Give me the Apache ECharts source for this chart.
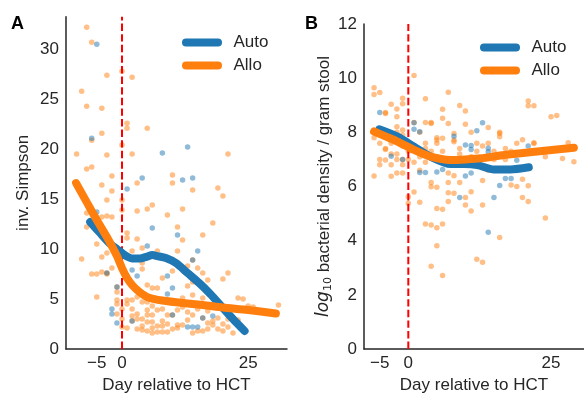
<!DOCTYPE html>
<html>
<head>
<meta charset="utf-8">
<script src="https://cdn.jsdelivr.net/npm/echarts@6/dist/echarts.min.js"></script>
<style>html,body{margin:0;padding:0;background:#fff}#c{width:584px;height:394px}</style>
</head>
<body>
<div id="c"></div>
<script>
// ---- Panel A: inverse Simpson ----
const xTicks = [-5, 0, 25];
const simpsonAlloPts = [
 [-7,32.2],[-6,30.7],[-3,27.4],[0,27.8],[2,27.2],[-8,25.8],[-7,24.3],[-4,24.1],[1,22.6],[1,22.1],[5,22.1],[-4,21.6],[-6,20.9],[0,20.4],
 [-9,19.5],[-3,19.4],[2,19.5],[21,19.5],[-6,18.2],[-7,18.0],[-2,17.3],[10,17.4],[3,16.6],[10,16.6],[-4,16.4],[-2,15.8],[14,15.9],[19,16.1],
 [20,15.3],[-3,14.9],[0,14.9],[6,14.4],[5,14.0],[3,13.8],[12,14.0],[0,13.9],[-7,13.6],[-4,13.2],[-3,13.3],[-2,13.2],[9,13.4],[18,12.6],
 [-7,12.2],[11,12.2],[-5,10.5],[-8,9.0],[-4,9.2],[-3,9.6],[-2,8.1],[1,11.6],[1,11.1],[3,11.0],[4,10.1],[7,9.8],[2,9.8],[4,8.6],[4,8.0],
 [-5,7.5],[-4,7.7],[-3,7.5],[-1,5.7],[-1,4.9],[-1,4.5],[-1,3.5],[-5,5.2],[1,4.9],[1,4.5],[2,4.9],[1,2.1],[5,6.4],[6,6.1],[7,6.1],[3,5.2],
 [4,4.7],[5,4.7],[8,7.1],[10,7.8],[16,11.4],[12,10.9],[11,9.8],[13,8.3],[15,8.1],[16,7.6],[17,6.9],[20,7.0],[21,7.6],[13,6.3],[14,6.7],
 [14,5.4],[12,5.1],[16,5.1],[24,5.0],[26,4.2],[31,4.4],[23,5.1],[25,4.3],[13,3.7],[14,3.4],[19,3.1],[17,3.8],[21,2.2],[20,1.8],[22,1.6],
 [11,2.4],[12,2.4],[15,1.8],[16,1.8],[17,2.0],[18,2.4],[18,2.8],[11,2.1],[14,1.6],[14,8.9],[16,3.1],
 [3,3.5],[3,3.0],[4,3.0],[4,2.3],[5,3.9],[5,3.4],[5,2.7],[5,1.8],[6,3.4],[6,2.7],[7,3.9],[7,2.3],[8,2.3],[7,1.7],[8,1.7],[9,1.7],
 [9,3.4],[10,3.4],[0,4.0],[0,3.0],[0,2.2],[2,4.0],[2,3.3],[3,2.0],[6,2.1],[8,2.8],[9,2.5],[10,2.0],[10,4.6],[12,4.2],[15,4.0],[13,2.9],
 [19,2.0],[20,2.5],[21,3.0],[23,2.9],[2,2.8],[-3,7.6],[-6,7.5],[-1,6.2],[6,4.3],[8,4.0],[4,1.9],[6,1.6],[11,3.9],[17,2.6]
];
const simpsonAutoPts = [
 [-5,30.5],[-6,21.1],[13,20.2],[8,19.6],[4,17.1],[12,16.9],[14,17.1],[1,16.0],[-5,13.7],[6,12.1],[5,10.3],[11,11.4],[15,9.8],
 [2,7.9],[3,7.3],[-3,7.6],[-1,6.2],[-2,4.0],[-2,3.5],[-1,2.6],[2,2.8],[9,7.3],[9,5.5],[10,6.1],[10,3.4],[14,8.9],[16,3.1],
 [18,3.3],[13,2.2],[14,2.2],[15,2.2]
];
const simpsonAlloLine = [[-9.1,16.6],[-7,14.7],[-5,12.9],[-3,11.2],[-1,9.3],[0,8.1],[1,7.1],[2,6.4],[3,5.9],[4,5.5],[5,5.2],[6,5.05],[8,4.85],[12,4.6],[16,4.4],[20,4.15],[25,3.9],[30.5,3.55]];
const simpsonAutoLine = [[-6.3,12.7],[-4.5,11.7],[-2.5,10.6],[-1,10.0],[0,9.6],[1,9.25],[2,9.05],[3.5,9.05],[5,9.25],[6,9.4],[7,9.3],[8.7,9.1],[10.7,8.6],[13,7.6],[15.3,6.6],[17.5,5.5],[20,4.1],[22,3.0],[24.3,1.8]];

// ---- Panel B: log10 bacterial density ----
const densAlloPts = [
 [1,10.1],[-6,9.65],[-6,9.4],[-5,9.47],[7,9.48],[-1,9.26],[-3,9.04],[3,9.24],[-1,9.06],[9,8.99],[21,9.16],[21,8.98],[22,8.98],[-2,8.86],
 [-4,8.7],[6,8.85],[10,8.79],[26,8.62],[25,8.58],[1,8.36],[3,8.36],[4,8.36],[6,8.52],[5,7.72],[8,7.72],[6,7.78],[14,8.18],[16,8.0],
 [20,7.73],[22,7.62],[28,7.62],[-4,7.4],[-3,7.2],[27,7.03],[29,6.91],
 [-6,6.39],[-3,6.38],[-2,6.5],[-1,6.5],[7,6.5],[4,6.15],[4,5.99],[5,5.97],[7,6.15],[9,6.15],[13,6.22],[18,6.06],[21,6.03],[20,6.27],
 [1,5.8],[7,5.77],[8,5.75],[11,5.81],[10,5.59],[20,5.59],[0,5.62],[0,5.38],[2,5.42],[7,5.45],[10,5.32],[13,5.32],[21,5.45],[5,5.19],
 [6,5.16],[11,5.1],[24,4.84],[3,4.62],[4,4.58],[6,4.62],[5,4.48],[16,4.12],[5,3.81],[12,3.31],[13,3.2],[4,3.06],[6,2.71],
 [-2,8.58],[-4,8.73],[-2,8.21],[-1,8.09],[-1,7.9],[4,8.33],[7,8.33],[-4,7.37],[-4,6.98],[-2,7.2],[-2,7.0],[-1,7.5],[-1,7.0],[-1,6.8],
 [1,7.5],[3,7.6],[3,7.4],[4,7.3],[4,7.1],[5,7.8],[5,7.6],[8,7.96],[8,7.65],[11,7.1],[12,6.98],[13,7.5],[16,7.96],[16,7.84],[18,7.3],
 [22,7.59],[-5,7.0],[0,7.0],[0,7.3],[2,7.1],[9,7.2],[10,7.0],[15,7.0],[17,7.4],[12,7.6],[14,7.6],[10,8.3],[11,8.0],[9,7.4],[2,6.6],
 [-3,6.8],[-5,6.8],[6,6.9],[8,6.4],[14,6.6],[19,6.0],[-6,7.8],[-3,7.6],[-5,7.6],[1,6.9],[3,6.9],[12,7.3],[15,7.3],[17,7.0],[19,7.6],
 [24,7.1],[-2,8.0],[2,8.0],[6,7.3],[9,6.8],[13,6.7]
];
const densAutoPts = [
 [-5,8.73],[1,8.35],[2,8.02],[12,8.06],[13,8.35],[8,7.86],[11,7.51],[14,7.41],[21,7.5],[19,6.97],[10,7.53],[11,7.37],[14,7.28],
 [2,6.52],[3,6.52],[5,6.54],[6,6.63],[10,6.39],[11,6.5],[17,6.3],[18,6.3],[16,6.04],[9,5.59],[15,5.59],[14,4.31],[1,8.11],[-1,7.0],[-3,7.12]
];
const densAlloLine = [[-6,8.03],[-4,7.85],[-1.9,7.66],[1,7.35],[3.9,7.1],[7.4,6.98],[10,7.0],[12.7,7.04],[16.8,7.16],[22.6,7.29],[29,7.43]];
const densAutoLine = [[-5.1,8.11],[-1.9,7.84],[1,7.47],[3.9,7.1],[7.4,6.83],[9.75,6.83],[12.1,6.79],[15,6.63],[17.9,6.63],[21.1,6.71]];

const BLUE = '#1f77b4', ORANGE = '#ff7f0e', INK = '#262626';
const FONT = '"Liberation Sans", Arial, sans-serif';
const FS = 17;
const minus = v => (v < 0 ? '\u2212' + Math.abs(v) : String(v));
const pill = 'path://M4,0 H36 A4,4 0 0 1 36,8 H4 A4,4 0 0 1 4,0 Z';

function xAx(idx, min, max) {
  return {
    gridIndex: idx, type: 'value', min: min, max: max,
    name: 'Day relative to HCT', nameLocation: 'middle', nameGap: 24,
    nameTextStyle: {fontSize: FS, color: INK, fontFamily: FONT},
    axisLine: {show: true, onZero: false, lineStyle: {color: INK, width: 1.5}},
    axisTick: {show: false}, splitLine: {show: false},
    axisLabel: {customValues: xTicks, formatter: minus, fontSize: FS, color: INK, fontFamily: FONT, margin: 6}
  };
}
function yAx(idx, min, max, interval, name, gap, rich) {
  return {
    gridIndex: idx, type: 'value', min: min, max: max, interval: interval,
    name: name, nameLocation: 'middle', nameGap: gap, nameRotate: 90,
    nameTextStyle: {fontSize: FS, color: INK, fontFamily: FONT, rich: rich},
    axisLine: {show: true, onZero: false, lineStyle: {color: INK, width: 1.5}},
    axisTick: {show: false}, splitLine: {show: false},
    axisLabel: {fontSize: FS, color: INK, fontFamily: FONT, margin: 7, showMaxLabel: max % interval === 0}
  };
}
function scatter(name, data, color, idx) {
  return {name: name, type: 'scatter', xAxisIndex: idx, yAxisIndex: idx, data: data,
    symbolSize: 5.5, itemStyle: {color: color, opacity: 0.5}, silent: true, z: 2};
}
function curve(name, data, color, idx) {
  return {name: name, type: 'line', xAxisIndex: idx, yAxisIndex: idx, data: data, smooth: 0.25,
    symbol: 'none', lineStyle: {color: color, width: 8, cap: 'round', join: 'round'},
    itemStyle: {color: color}, z: 4};
}
function vline(name, top, idx) {
  return {name: name, type: 'line', xAxisIndex: idx, yAxisIndex: idx, data: [[0, 0], [0, top]],
    symbol: 'none', lineStyle: {color: '#ff0000', width: 2, type: [7.4, 3.2]}, z: 3, silent: true};
}

const chart = echarts.init(document.getElementById('c'), null, {renderer: 'canvas'});
chart.setOption({
  animation: false,
  backgroundColor: '#fff',
  textStyle: {fontFamily: FONT},
  grid: [
    {left: 66, top: 16.7, width: 221, height: 332.3, outerBoundsMode: 'none', containLabel: false},
    {left: 364, top: 24, width: 220, height: 325, outerBoundsMode: 'none', containLabel: false}
  ],
  xAxis: [xAx(0, -11.1, 32.7), xAx(1, -7.76, 30.77)],
  yAxis: [
    yAx(0, 0, 33.25, 5, 'inv. Simpson', 34),
    yAx(1, 0, 12, 2, '{it|log}{sub|10} bacterial density / gram stool', 30,
      {it: {fontStyle: 'italic', fontSize: FS, color: INK, fontFamily: '"DejaVu Sans", sans-serif', lineHeight: 20},
       sub: {fontSize: 11, color: INK, fontFamily: '"DejaVu Sans", sans-serif', verticalAlign: 'bottom', lineHeight: 11}})
  ],
  legend: [
    {left: 177, top: 29, orient: 'vertical', icon: pill, itemWidth: 41, itemHeight: 8, itemGap: 6,
     data: [{name: 'Auto', itemStyle: {color: BLUE}}, {name: 'Allo', itemStyle: {color: ORANGE}}],
     textStyle: {fontSize: FS, color: INK, fontFamily: FONT, padding: [0, 0, 0, 6]}, selectedMode: false},
    {left: 475, top: 34, orient: 'vertical', icon: pill, itemWidth: 41, itemHeight: 8, itemGap: 6,
     data: [{name: 'Auto', itemStyle: {color: BLUE}}, {name: 'Allo', itemStyle: {color: ORANGE}}],
     textStyle: {fontSize: FS, color: INK, fontFamily: FONT, padding: [0, 0, 0, 6]}, selectedMode: false}
  ],
  graphic: [
    {type: 'text', left: 11, top: 15, style: {text: 'A', font: 'bold 18px ' + FONT, fill: '#000'}},
    {type: 'text', left: 305, top: 15, style: {text: 'B', font: 'bold 18px ' + FONT, fill: '#000'}}
  ],
  series: [
    scatter('Allo A pts', simpsonAlloPts, ORANGE, 0),
    scatter('Auto A pts', simpsonAutoPts, BLUE, 0),
    vline('hct A', 33.25, 0),
    curve('Auto', simpsonAutoLine, BLUE, 0),
    curve('Allo', simpsonAlloLine, ORANGE, 0),
    scatter('Allo B pts', densAlloPts, ORANGE, 1),
    scatter('Auto B pts', densAutoPts, BLUE, 1),
    vline('hct B', 12, 1),
    curve('Auto', densAutoLine, BLUE, 1),
    curve('Allo', densAlloLine, ORANGE, 1)
  ]
});
</script>
</body>
</html>
